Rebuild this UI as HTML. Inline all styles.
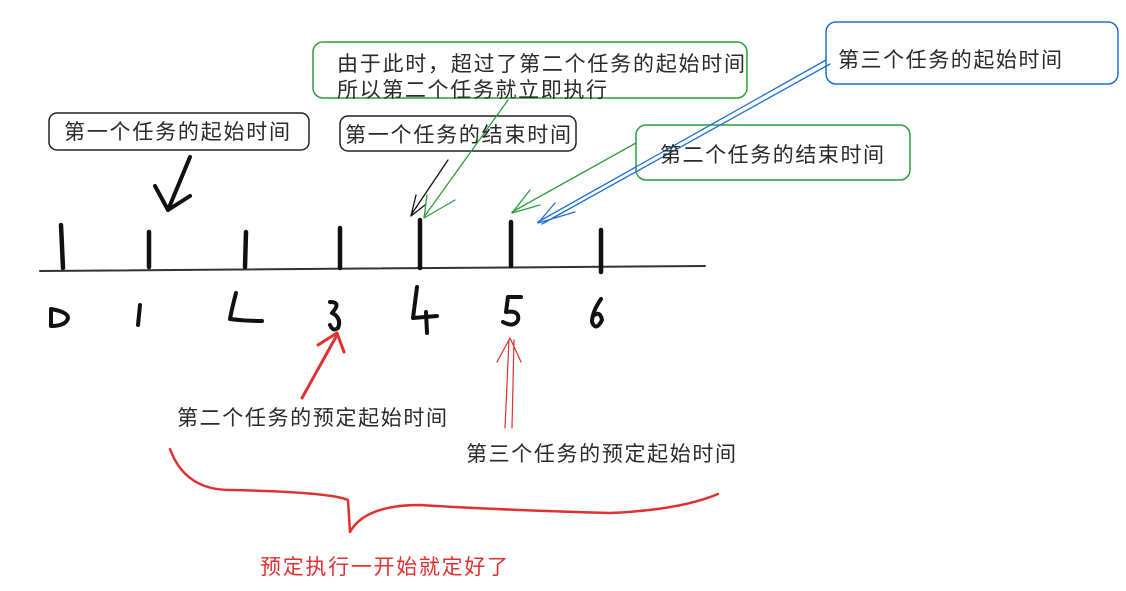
<!DOCTYPE html>
<html><head><meta charset="utf-8"><style>
html,body{margin:0;padding:0;background:#fff;}
svg{display:block}
text{font-family:"Liberation Sans","Noto Sans CJK SC",sans-serif;font-size:21px;fill:#2a2a2a;}
</style></head><body>
<svg width="1126" height="591" viewBox="0 0 1126 591" xmlns="http://www.w3.org/2000/svg">
<g fill="none" stroke-linecap="round" stroke-linejoin="round">
<rect x="49" y="113" width="260" height="37" rx="8" stroke="#222" stroke-width="1.5"/>
<rect x="340" y="116" width="236" height="35" rx="8" stroke="#222" stroke-width="1.5"/>
<rect x="313" y="42" width="434" height="56" rx="10" stroke="#2e9e3a" stroke-width="1.5"/>
<rect x="826" y="22" width="292" height="62" rx="10" stroke="#1f6fd1" stroke-width="1.5"/>
<rect x="636" y="125" width="274" height="55" rx="10" stroke="#2e9e3a" stroke-width="1.5"/>
<path d="M40 271 L705 266" stroke="#333" stroke-width="2"/>
<g stroke="#111" stroke-width="4.5">
<path d="M61 225 L63 268"/><path d="M149 232 L149 267"/><path d="M246 232 L245 267"/>
<path d="M340 228 L340 268"/><path d="M420 220 L420 268"/><path d="M511 222 L511 266"/>
<path d="M601 230 L601 272"/>
</g>
<g stroke="#111" stroke-width="4">
<path d="M51 309 L51 326 M51 309 Q68 312 68 318 Q66 326 51 326"/>
<path d="M140 305 L138 325"/>
<path d="M236 293 Q232 308 230 319 Q245 321 262 321"/>
<path d="M330 302 Q342 302 332 313 Q342 318 338 328 Q333 332 330 325"/>
<path d="M417 287 L413 318 L437 316 M426 312 L427 333"/>
<path d="M521 297 L508 297 L506 312 Q520 310 518 320 Q514 328 503 322"/>
<path d="M601 299 Q592 312 592 322 Q596 332 602 320 Q600 310 593 316"/>
</g>
<path d="M190 157 L168 210 M155 186 L168 210 L190 196" stroke="#111" stroke-width="4"/>
<path d="M448 160 L411 215 M416 195 L411 216 L425 205" stroke="#111" stroke-width="1.3"/>
<path d="M508 100 L424 217 M427 195 L424 218 L455 200" stroke="#2e9e3a" stroke-width="1.3"/>
<path d="M636 143 L512 212 M530 190 L512 213 L540 205" stroke="#2e9e3a" stroke-width="1.3"/>
<path d="M826 60 L538 222 M830 64 L542 224 M555 203 L538 223 L575 212" stroke="#1f6fd1" stroke-width="1.3"/>
<path d="M302 398 L337 335 M318 345 L337 333 L344 352" stroke="#e03131" stroke-width="3"/>
<path d="M505 428 L509 340 M512 428 L514 340 M497 362 L510 338 L521 362" stroke="#e03131" stroke-width="1.2"/>
<path d="M170 449 Q185 490 230 490 Q330 492 348 500 L350 532 Q365 505 420 505 Q500 510 610 513 Q680 510 718 494" stroke="#e03131" stroke-width="2.5"/>
</g>
<text x="64" y="139" textLength="226">第一个任务的起始时间</text>
<text x="345" y="142" textLength="226">第一个任务的结束时间</text>
<text x="337" y="71" textLength="408">由于此时，超过了第二个任务的起始时间</text>
<text x="337" y="97" textLength="270">所以第二个任务就立即执行</text>
<text x="838" y="67" textLength="224">第三个任务的起始时间</text>
<text x="660" y="162" textLength="224">第二个任务的结束时间</text>
<text x="177" y="425" textLength="270">第二个任务的预定起始时间</text>
<text x="466" y="461" textLength="270">第三个任务的预定起始时间</text>
<text x="260" y="574" textLength="248" style="fill:#e03131">预定执行一开始就定好了</text>
</svg>
</body></html>
